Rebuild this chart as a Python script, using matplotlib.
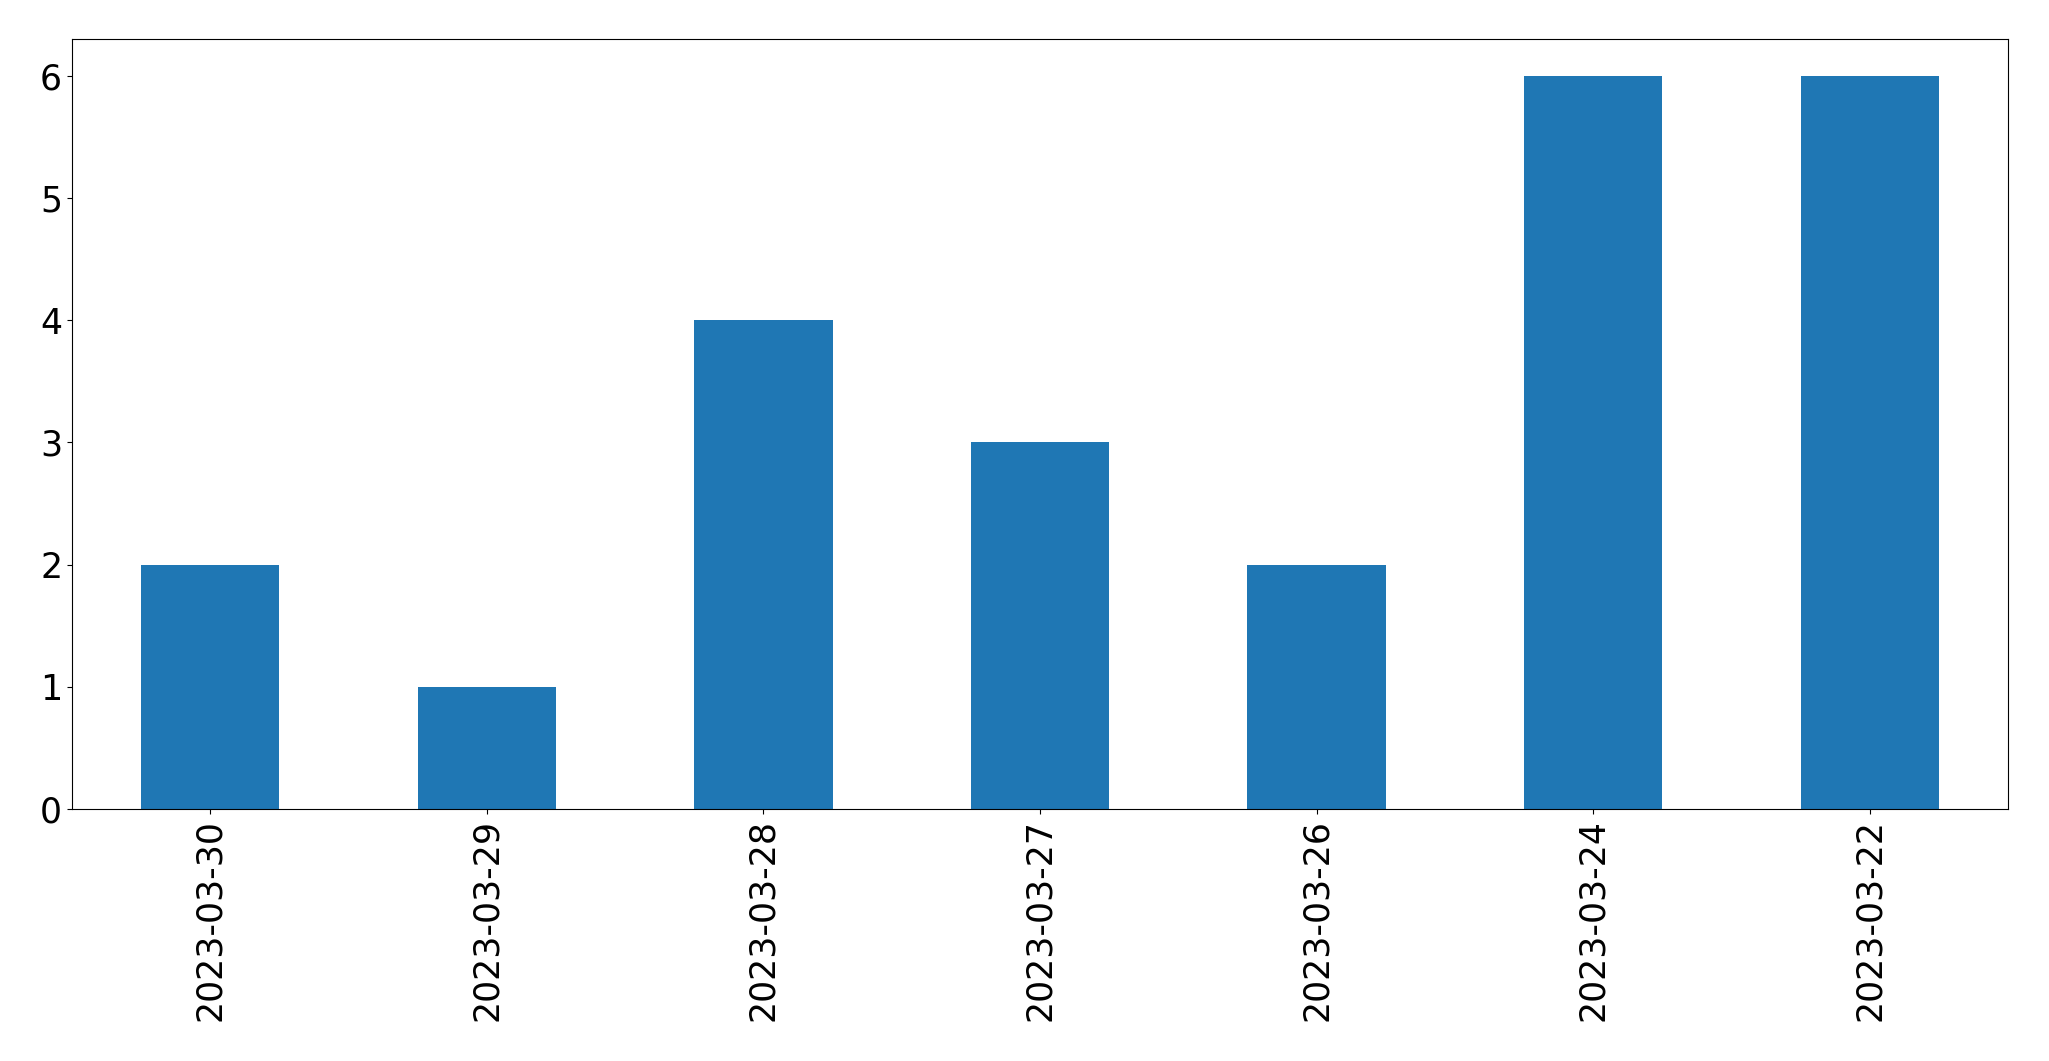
import matplotlib
matplotlib.use("Agg")
import matplotlib.pyplot as plt
import pandas as pd

#data
dates = ["2023-03-30", "2023-03-29", "2023-03-28", "2023-03-27",
         "2023-03-26", "2023-03-24", "2023-03-22"]
counts = [2, 1, 4, 3, 2, 6, 6]

#chart
series = pd.Series(counts, index=dates)
fig, ax = plt.subplots(figsize=(20.49, 10.61), dpi=100)
series.plot(kind="bar", ax=ax, color="#1f77b4", width=0.5)
ax.tick_params(axis="both", labelsize=25)
fig.subplots_adjust(left=0.0351, right=0.980, top=0.963, bottom=0.2375)
fig.savefig("out.png", dpi=100)
